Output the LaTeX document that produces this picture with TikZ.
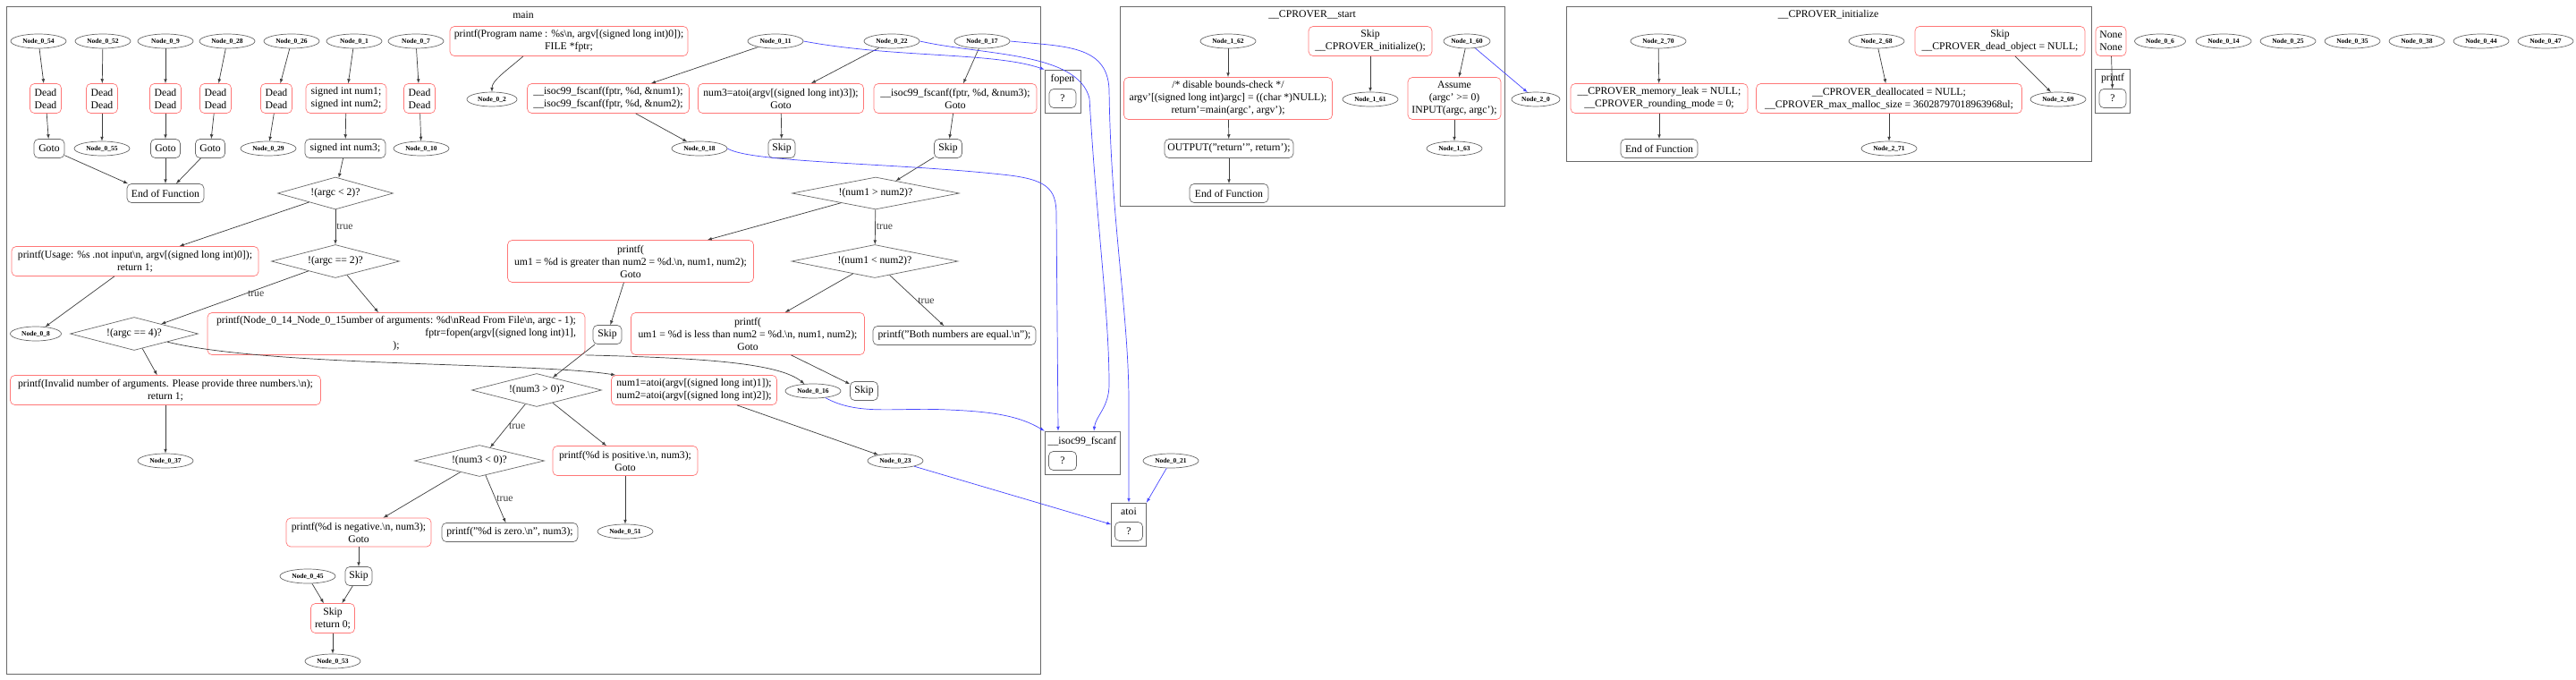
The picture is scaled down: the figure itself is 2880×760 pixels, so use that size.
\documentclass[tikz,border=0pt]{standalone}
\usepackage{fontspec}
\setmainfont{Liberation Serif}
\usetikzlibrary{shapes.geometric}
\definecolor{lred}{RGB}{255,120,120}
\definecolor{lgray}{RGB}{105,105,105}
\definecolor{dgray}{RGB}{60,60,60}
\definecolor{cblue}{RGB}{70,70,255}

\begin{document}
\begin{tikzpicture}[x=1pt,y=-1pt,line width=0.7pt,
  ell/.style={draw=lgray,ellipse,inner sep=0pt,minimum width=62pt,minimum height=16pt,font=\fontsize{7.5}{8}\selectfont\bfseries},
  rbox/.style={draw=lred,rounded corners=5pt,align=center,inner xsep=3pt,inner ysep=2pt,minimum height=21pt,font=\fontsize{11.7}{14}\selectfont},
  gbox/.style={rbox,draw=lgray},
  cond/.style={draw=lgray,diamond,aspect=3.5,inner sep=0pt,font=\fontsize{11.7}{14}\selectfont},
  clus/.style={draw=lgray},
  ttl/.style={font=\fontsize{11.7}{14}\selectfont},
  flow/.style={dgray,-latex},
  call/.style={cblue,-latex},
  lbl/.style={font=\fontsize{11.7}{14}\selectfont,inner sep=1pt}]
  \useasboundingbox (0,0) rectangle (2880,760);

  \draw[clus] (7,7) rectangle (1163,753);
  \node[ttl] (tmain) at (585,17) {main};

  \node[ell] (n054) at (43,46) {Node\_0\_54};
  \node[ell] (n052) at (115,46) {Node\_0\_52};
  \node[ell] (n09) at (185,46) {Node\_0\_9};
  \node[ell] (n028) at (254,46) {Node\_0\_28};
  \node[ell] (n026) at (326,46) {Node\_0\_26};
  \node[ell] (n01) at (396,46) {Node\_0\_1};
  \node[ell] (n07) at (465,46) {Node\_0\_7};
  \node[rbox,minimum width=266pt,minimum height=33pt] (pprog) at (636,46) {printf(Program name : \%s\textbackslash n, argv[(signed long int)0]);\\FILE *fptr;};
  \node[ell] (n011) at (867,46) {Node\_0\_11};
  \node[ell] (n022) at (997,46) {Node\_0\_22};
  \node[ell] (n017) at (1098,46) {Node\_0\_17};

  \node[rbox,minimum width=35pt,minimum height=33pt] (d1) at (51,110) {Dead\\Dead};
  \node[rbox,minimum width=35pt,minimum height=33pt] (d2) at (114,110) {Dead\\Dead};
  \node[rbox,minimum width=35pt,minimum height=33pt] (d3) at (185,110) {Dead\\Dead};
  \node[rbox,minimum width=35pt,minimum height=33pt] (d4) at (241,110) {Dead\\Dead};
  \node[rbox,minimum width=35pt,minimum height=33pt] (d5) at (309,110) {Dead\\Dead};
  \node[rbox,minimum width=90pt,minimum height=33pt] (sn12) at (387,110) {signed int num1;\\signed int num2;};
  \node[rbox,minimum width=35pt,minimum height=33pt] (d7) at (469,110) {Dead\\Dead};
  \node[ell,minimum width=56pt] (n02) at (550,111) {Node\_0\_2};
  \node[rbox,minimum width=181pt,minimum height=33pt] (fs12) at (680,110) {\_\_isoc99\_fscanf(fptr, \%d, \&num1);\\\_\_isoc99\_fscanf(fptr, \%d, \&num2);};
  \node[rbox,minimum width=185pt,minimum height=33pt] (at3) at (873,110) {num3=atoi(argv[(signed long int)3]);\\Goto};
  \node[rbox,minimum width=182pt,minimum height=33pt] (fs3) at (1068,110) {\_\_isoc99\_fscanf(fptr, \%d, \&num3);\\Goto};

  \node[gbox,minimum width=34pt] (g1) at (55,166) {Goto};
  \node[ell] (n055) at (114,166) {Node\_0\_55};
  \node[gbox,minimum width=33pt] (g2) at (185,166) {Goto};
  \node[gbox,minimum width=33pt] (g3) at (235,166) {Goto};
  \node[ell] (n029) at (300,166) {Node\_0\_29};
  \node[gbox,minimum width=90pt] (sn3) at (386,166) {signed int num3;};
  \node[ell] (n010) at (471,166) {Node\_0\_10};
  \node[ell] (n018) at (782,166) {Node\_0\_18};
  \node[gbox,minimum width=30pt] (sk1) at (874,166) {Skip};
  \node[gbox,minimum width=31pt] (sk2) at (1060,166) {Skip};

  \node[gbox,minimum width=86pt] (endm) at (185,216) {End of Function};
  \node[cond,minimum width=129pt,minimum height=36pt] (c1) at (375,216) {!(argc < 2)?};
  \node[cond,minimum width=187pt,minimum height=36pt] (c5) at (979,216) {!(num1 > num2)?};

  \node[rbox,minimum width=276pt,minimum height=33pt] (usage) at (151,292) {printf(Usage: \%s .not input\textbackslash n, argv[(signed long int)0]);\\return 1;};
  \node[cond,minimum width=143pt,minimum height=37pt] (c2) at (375,292) {!(argc == 2)?};
  \node[rbox,minimum width=275pt,minimum height=47pt] (pgt) at (705,292) {printf(\\um1 = \%d is greater than num2 = \%d.\textbackslash n, num1, num2);\\Goto};
  \node[cond,minimum width=186pt,minimum height=37pt] (c6) at (978,292) {!(num1 < num2)?};

  \node[ell,minimum width=57pt] (n08) at (40,373) {Node\_0\_8};
  \node[cond,minimum width=143pt,minimum height=37pt] (c3) at (150,373) {!(argc == 4)?};
  \node[rbox,minimum width=422pt,minimum height=47pt] (popen) at (443,373) {\begin{tabular}{@{}c@{}}printf(Node\_0\_14\_Node\_0\_15umber of arguments: \%d\textbackslash nRead From File\textbackslash n, argc - 1);\\ \hfill fptr=fopen(argv[(signed long int)1],\\ );\end{tabular}};
  \node[gbox,minimum width=32pt] (sk3) at (679,374) {Skip};
  \node[rbox,minimum width=261pt,minimum height=47pt] (plt) at (836,373) {printf(\\um1 = \%d is less than num2 = \%d.\textbackslash n, num1, num2);\\Goto};
  \node[gbox,minimum width=182pt] (peq) at (1067,375) {printf("Both numbers are equal.\textbackslash n");};

  \node[rbox,minimum width=347pt,minimum height=33pt] (inval) at (185,436) {printf(Invalid number of arguments. Please provide three numbers.\textbackslash n);\\return 1;};
  \node[cond,minimum width=145pt,minimum height=37pt] (c7) at (600,436) {!(num3 > 0)?};
  \node[rbox,minimum width=185pt,minimum height=33pt,align=left] (atoi12) at (776,436) {num1=atoi(argv[(signed long int)1]);\\num2=atoi(argv[(signed long int)2]);};
  \node[ell] (n016) at (909,437) {Node\_0\_16};
  \node[gbox,minimum width=31pt] (sk4) at (966,437) {Skip};

  \node[ell] (n037) at (185,515) {Node\_0\_37};
  \node[cond,minimum width=145pt,minimum height=35pt] (c8) at (536,515) {!(num3 < 0)?};
  \node[rbox,minimum width=162pt,minimum height=33pt] (ppos) at (699,515) {printf(\%d is positive.\textbackslash n, num3);\\Goto};
  \node[ell] (n023) at (1001,515) {Node\_0\_23};

  \node[rbox,minimum width=162pt,minimum height=32pt] (pneg) at (401,595) {printf(\%d is negative.\textbackslash n, num3);\\Goto};
  \node[gbox,minimum width=152pt] (pzero) at (570,595) {printf("\%d is zero.\textbackslash n", num3);};
  \node[ell] (n051) at (699,594) {Node\_0\_51};
  \node[ell] (n045) at (344,644) {Node\_0\_45};
  \node[gbox,minimum width=30pt] (sk5) at (401,644) {Skip};
  \node[rbox,minimum width=49pt,minimum height=33pt] (sret) at (372,691) {Skip\\return 0;};
  \node[ell] (n053) at (372,739) {Node\_0\_53};

  \node[clus,minimum width=40pt,minimum height=48pt] (kfopen) at (1188,102) {};
  \node[ttl] (tfopen) at (1188,89) {fopen};
  \node[gbox,minimum width=30pt] (q1) at (1188,110) {?};
  \node[clus,minimum width=84pt,minimum height=48pt] (kfscanf) at (1210,506) {};
  \node[ttl] (tfscanf) at (1210,493) {\_\_isoc99\_fscanf};
  \node[gbox,minimum width=31pt] (q2) at (1188,515) {?};
  \node[clus,minimum width=39pt,minimum height=48pt] (katoi) at (1262,586) {};
  \node[ttl] (tatoi) at (1262,572) {atoi};
  \node[gbox,minimum width=31pt] (q3) at (1262,594) {?};
  \node[ell] (n021) at (1309,515) {Node\_0\_21};

  \draw[clus] (1252,7) rectangle (1682,230);
  \node[ttl] (tstart) at (1467,16) {\_\_CPROVER\_\_start};
  \node[ell] (n162) at (1373,46) {Node\_1\_62};
  \node[rbox,minimum width=138pt,minimum height=33pt] (sinit) at (1532,46) {Skip\\\_\_CPROVER\_initialize();};
  \node[ell,minimum width=52pt] (n160) at (1640,46) {Node\_1\_60};
  \node[rbox,minimum width=233pt,minimum height=47pt] (dis) at (1373,110) {/* disable bounds-check */\\argv'[(signed long int)argc] = ((char *)NULL);\\return'=main(argc', argv');};
  \node[ell] (n161) at (1532,111) {Node\_1\_61};
  \node[rbox,minimum width=104pt,minimum height=47pt] (assume) at (1626,110) {Assume\\(argc' >= 0)\\INPUT(argc, argc');};
  \node[gbox,minimum width=144pt] (outp) at (1374,166) {OUTPUT("return'", return');};
  \node[ell] (n163) at (1626,166) {Node\_1\_63};
  \node[gbox,minimum width=88pt] (ends) at (1374,216) {End of Function};
  \node[ell,minimum width=54pt] (n20) at (1717,111) {Node\_2\_0};

  \draw[clus] (1751,7) rectangle (2338,180);
  \node[ttl] (tinit) at (2044,16) {\_\_CPROVER\_initialize};
  \node[ell] (n270) at (1854,46) {Node\_2\_70};
  \node[ell] (n268) at (2098,46) {Node\_2\_68};
  \node[rbox,minimum width=190pt,minimum height=33pt] (sdead) at (2236,46) {Skip\\\_\_CPROVER\_dead\_object = NULL;};
  \node[rbox,minimum width=198pt,minimum height=33pt] (meml) at (1855,110) {\_\_CPROVER\_memory\_leak = NULL;\\\_\_CPROVER\_rounding\_mode = 0;};
  \node[rbox,minimum width=297pt,minimum height=33pt] (deal) at (2112,110) {\_\_CPROVER\_deallocated = NULL;\\\_\_CPROVER\_max\_malloc\_size = 36028797018963968ul;};
  \node[ell] (n269) at (2301,111) {Node\_2\_69};
  \node[gbox,minimum width=86pt] (endi) at (1855,166) {End of Function};
  \node[ell] (n271) at (2112,166) {Node\_2\_71};

  \node[rbox,minimum width=34pt,minimum height=33pt] (none) at (2360,46) {None\\None};
  \node[clus,minimum width=39pt,minimum height=49pt] (kprintf) at (2362,102) {};
  \node[ttl] (tprintf) at (2362,88) {printf};
  \node[gbox,minimum width=30pt] (q4) at (2362,110) {?};
  \node[ell,minimum width=57pt] (n06) at (2415,46) {Node\_0\_6};
  \node[ell] (n014) at (2486,46) {Node\_0\_14};
  \node[ell] (n025) at (2558,46) {Node\_0\_25};
  \node[ell] (n035) at (2630,46) {Node\_0\_35};
  \node[ell] (n038) at (2702,46) {Node\_0\_38};
  \node[ell] (n044) at (2774,46) {Node\_0\_44};
  \node[ell] (n047) at (2846,46) {Node\_0\_47};

  \draw[flow] (n054) -- (d1);
  \draw[flow] (d1) -- (g1);
  \draw[flow] (g1) -- ([xshift=-42pt]endm.north);
  \draw[flow] (n052) -- (d2);
  \draw[flow] (d2) -- (n055);
  \draw[flow] (n09) -- (d3);
  \draw[flow] (d3) -- (g2);
  \draw[flow] (g2) -- (endm);
  \draw[flow] (n028) -- (d4);
  \draw[flow] (d4) -- (g3);
  \draw[flow] (g3) -- ([xshift=12pt]endm.north);
  \draw[flow] (n026) -- (d5);
  \draw[flow] (d5) -- (n029);
  \draw[flow] (n01) -- (sn12);
  \draw[flow] (sn12) -- (sn3);
  \draw[flow] (sn3) -- (c1);
  \draw[flow] (n07) -- (d7);
  \draw[flow] (d7) -- (n010);
  \draw[flow] ([xshift=-51pt]pprog.south) .. controls (565,80) and (550,90) .. (n02);
  \draw[flow] (n011) -- ([xshift=48pt]fs12.north);
  \draw[flow] (fs12) -- (n018);
  \draw[flow] (n022) -- ([xshift=34pt]at3.north);
  \draw[flow] (at3) -- (sk1);
  \draw[flow] (n017) -- ([xshift=9pt]fs3.north);
  \draw[flow] (fs3) -- (sk2);
  \draw[flow] (sk2) -- (c5);

  \draw[flow] (c1) -- (usage);
  \draw[flow] (c1) -- node[lbl,right] {true} (c2);
  \draw[flow] (usage) -- (n08);
  \draw[flow] (c2) -- node[lbl,right,pos=0.42] {true} (c3);
  \draw[flow] (c2) -- (popen);
  \draw[flow] (c3) -- (inval);
  \draw[flow] (c3) .. controls (300,410) and (600,405) .. ([xshift=5pt]atoi12.north west);
  \draw[flow] (inval) -- (n037);
  \draw[flow] (popen.south east) .. controls (780,400) and (870,405) .. (n016);
  \draw[flow] (c5) -- (pgt);
  \draw[flow] (c5) -- node[lbl,right] {true} (c6);
  \draw[flow] (c6) -- (plt);
  \draw[flow] (c6) -- node[lbl,right] {true} (peq);
  \draw[flow] (pgt) -- (sk3);
  \draw[flow] (sk3) -- (c7);
  \draw[flow] (plt) -- (sk4);
  \draw[flow] (atoi12) -- (n023);
  \draw[flow] (c7) -- node[lbl,right] {true} (c8);
  \draw[flow] (c7) -- (ppos);
  \draw[flow] (c8) -- (pneg);
  \draw[flow] (c8) -- node[lbl,right] {true} (pzero);
  \draw[flow] (ppos) -- (n051);
  \draw[flow] (pneg) -- (sk5);
  \draw[flow] (sk5) -- (sret);
  \draw[flow] (n045) -- (sret);
  \draw[flow] (sret) -- (n053);

  \draw[call] (n011.east) .. controls (1000,65) and (1110,58) .. (kfopen.north west);
  \draw[call] (n022.east) .. controls (1100,62) and (1205,58) .. (1218,110) .. controls (1226,250) and (1240,350) .. (1240,430) .. controls (1240,455) and (1225,465) .. ([xshift=13pt]kfscanf.north);
  \draw[call] (n017.east) .. controls (1190,52) and (1238,50) .. (1240,100) .. controls (1242,250) and (1262,350) .. (1262,450) -- (katoi);
  \draw[call] (n018.east) .. controls (840,182) and (1000,182) .. (1120,195) .. controls (1170,200) and (1181,210) .. (1181,240) -- ([xshift=-27pt]kfscanf.north);
  \draw[call] (n016) .. controls (960,465) and (1000,455) .. (1060,458) .. controls (1110,460) and (1140,465) .. (kfscanf.north west);
  \draw[call] (n023) -- (katoi.west);
  \draw[call] (n021) -- (katoi.north east);

  \draw[flow] (n162) -- (dis);
  \draw[flow] (dis) -- (outp);
  \draw[flow] (outp) -- (ends);
  \draw[flow] (sinit) -- (n161);
  \draw[flow] (n160) -- (assume);
  \draw[flow] (assume) -- (n163);
  \draw[call] (n160) -- (n20);

  \draw[flow] (n270) -- (meml);
  \draw[flow] (meml) -- (endi);
  \draw[flow] (n268) -- (deal);
  \draw[flow] (deal) -- (n271);
  \draw[flow] (sdead) -- (n269);
  \draw[flow] (none) -- (q4);
\end{tikzpicture}
\end{document}
